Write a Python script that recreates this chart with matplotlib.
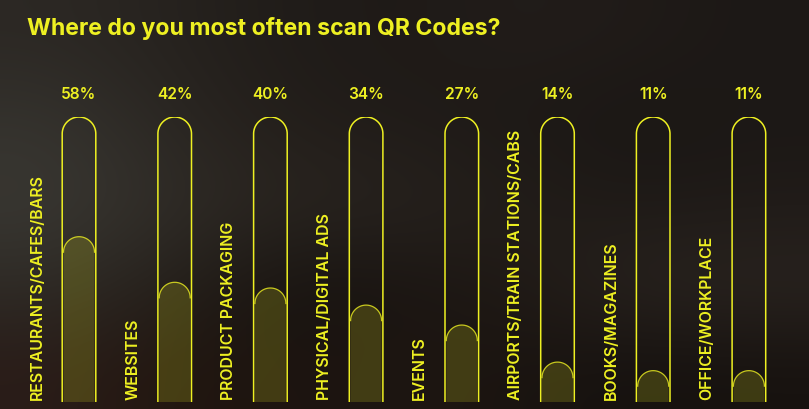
import numpy as np
import matplotlib
matplotlib.use("Agg")
import matplotlib.pyplot as plt
from matplotlib.path import Path
from matplotlib.patches import PathPatch
from matplotlib.colors import to_rgb

# data
categories = ["RESTAURANTS/CAFES/BARS", "WEBSITES", "PRODUCT PACKAGING",
              "PHYSICAL/DIGITAL ADS", "EVENTS", "AIRPORTS/TRAIN STATIONS/CABS",
              "BOOKS/MAGAZINES", "OFFICE/WORKPLACE"]
values = [58, 42, 40, 34, 27, 14, 11, 11]
value_labels = ["58%", "42%", "40%", "34%", "27%", "14%", "11%", "11%"]

yellow = "#eef022"
bg = "#211c19"
W, H = 809, 409
step = 95.7  # px between tube centres
x0_px, top_px, bot_px = 79, 117, 402

# blurred-photo look of the backdrop (rough tones, top to bottom)
bg_tones = [
    ["#2c2824", "#26221e", "#201c19", "#1e1a17", "#221d1a", "#201b18", "#1c1816"],
    ["#35332e", "#2a2622", "#231e1a", "#201b18", "#1d1916", "#1a1614", "#1c1816"],
    ["#3a3833", "#302c27", "#2a2520", "#28231f", "#221d19", "#1e1a17", "#201b18"],
    ["#2e2b26", "#25201b", "#171310", "#1a1512", "#201a16", "#29231f", "#2a2420"],
    ["#2a1c18", "#22160f", "#1c1410", "#1e1612", "#1a1410", "#15110f", "#17120f"],
]

plt.rcParams["font.family"] = ["Inter", "DejaVu Sans"]
fig = plt.figure(figsize=(W / 100, H / 100), dpi=100, facecolor=bg)

bax = fig.add_axes([0, 0, 1, 1])
bax.imshow(np.array([[to_rgb(c) for c in row] for row in bg_tones]),
           aspect="auto", interpolation="bicubic", extent=[0, 1, 0, 1])
bax.axis("off")

# axes: x in category index, y in percent (0 = tube bottom, 100 = tube top)
ax_left = (x0_px - 0.5 * step) / W
ax_w = len(categories) * step / W
ax_bottom = (H - bot_px) / H
ax_h = (bot_px - top_px) / H
ax = fig.add_axes([ax_left, ax_bottom, ax_w, ax_h])
ax.set_xlim(-0.5, len(categories) - 0.5)
ax.set_ylim(0, 100)
ax.axis("off")
ax.patch.set_alpha(0)

px_x = 1 / step                  # one pixel in x data units
px_y = 100 / (bot_px - top_px)   # one pixel in y data units


def capsule(xc, h, half_w_px):
    hw = half_w_px * px_x
    ry = half_w_px * px_y
    t = np.linspace(0, np.pi, 40)
    arc_x = xc + hw * np.cos(t)
    arc_y = h - ry + ry * np.sin(t)
    xs = np.concatenate([[xc + hw], arc_x, [xc - hw]])
    ys = np.concatenate([[0], arc_y, [0]])
    return xs, ys, arc_x, arc_y


for i, (cat, v, lab) in enumerate(zip(categories, values, value_labels)):
    # filled part
    xs, ys, ax_, ay_ = capsule(i, v, 15.5)
    verts = list(zip(xs, ys)) + [(xs[0], ys[0])]
    codes = [Path.MOVETO] + [Path.LINETO] * (len(verts) - 2) + [Path.CLOSEPOLY]
    ax.add_patch(PathPatch(Path(verts, codes), facecolor=yellow, alpha=0.18,
                           edgecolor="none"))
    ax.plot(ax_, ay_, color=yellow, lw=0.9, alpha=0.8)
    # tube outline
    xs, ys, _, _ = capsule(i, 100, 16.8)
    ax.plot(xs, ys, color=yellow, lw=1.1, solid_capstyle="butt")
    # value label
    ax.text(i, 100 + 22 * px_y, lab, ha="center", va="center", color=yellow,
            fontsize=11.2, fontweight="semibold")
    # category label
    ax.text(i - 42 * px_x, 1.5 * px_y, cat, rotation=90, ha="center",
            va="bottom", color=yellow, fontsize=11.5, fontweight="semibold")

fig.text(27 / W, 1 - 29 / H, "Where do you most often scan QR Codes?",
         ha="left", va="center", color=yellow, fontsize=16.6, fontweight="bold")

fig.savefig("out.png", dpi=100, facecolor=bg)
